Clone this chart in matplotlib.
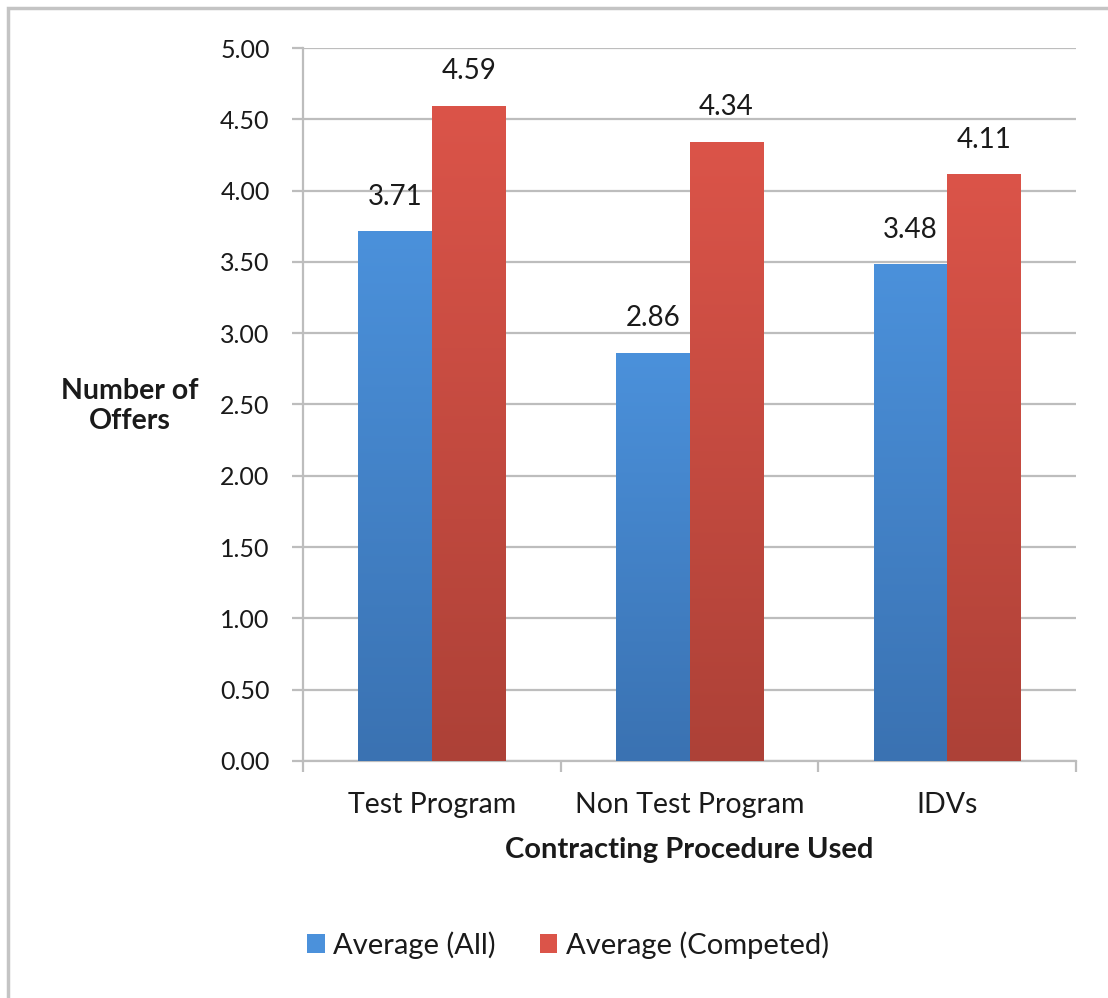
import numpy as np
import matplotlib.pyplot as plt
from matplotlib.colors import LinearSegmentedColormap
from matplotlib.patches import Rectangle

categories = ["Test Program", "Non Test Program", "IDVs"]
avg_all = [3.71, 2.86, 3.48]
avg_competed = [4.59, 4.34, 4.11]
series_names = ["Average (All)", "Average (Competed)"]
yticks = [0.0, 0.5, 1.0, 1.5, 2.0, 2.5, 3.0, 3.5, 4.0, 4.5, 5.0]

plt.rcParams['font.family'] = ['Lato', 'DejaVu Sans']
text_color = '#1a1a1a'
grid_color = '#bdbdbd'

# top/bottom colours of each series' vertical gradient
blue = ('#4b91db', '#3a72b2')
red = ('#db5449', '#ad4137')

fig = plt.figure(figsize=(11.08, 9.98), dpi=100)
ax = fig.add_axes([0.2735, 0.2375, 0.6976, 0.7144])

x = np.arange(len(categories))
w = 1 / 3.5
bars_all = ax.bar(x - w / 2, avg_all, w, color=blue[0], label=series_names[0], zorder=2)
bars_comp = ax.bar(x + w / 2, avg_competed, w, color=red[0], label=series_names[1], zorder=2)

grad = np.linspace(1, 0, 256).reshape(-1, 1)
for bars, (top, bottom) in [(bars_all, blue), (bars_comp, red)]:
    cmap = LinearSegmentedColormap.from_list('g', [bottom, top])
    for b in bars:
        x0, h = b.get_x(), b.get_height()
        ax.imshow(grad, extent=[x0, x0 + b.get_width(), 0, h], aspect='auto',
                  cmap=cmap, vmin=0, vmax=1, zorder=3, interpolation='bicubic')
        ax.annotate(f"{h:.2f}", (x0 + b.get_width() / 2, h), xytext=(0, 16),
                    textcoords='offset points', ha='center', va='bottom',
                    fontsize=20, color=text_color)

ax.set_xlim(-0.5, len(categories) - 0.5)
ax.set_ylim(0, 5)
ax.set_yticks(yticks)
ax.set_yticklabels([f"{v:.2f}" for v in yticks])
ax.yaxis.grid(True, color=grid_color, linewidth=1.6, zorder=0)
ax.set_axisbelow(True)

ax.set_xticks(x)
ax.set_xticklabels(categories)
ax.set_xticks(np.arange(len(categories) + 1) - 0.5, minor=True)
ax.tick_params(axis='x', which='major', length=0, pad=22, labelsize=20.5, labelcolor=text_color)
ax.tick_params(axis='x', which='minor', length=8, width=1.6, color=grid_color)
ax.tick_params(axis='y', length=8, width=1.6, color=grid_color, pad=16,
               labelsize=18, labelcolor=text_color)

for side in ['top', 'right']:
    ax.spines[side].set_visible(False)
for side in ['left', 'bottom']:
    ax.spines[side].set_color(grid_color)
    ax.spines[side].set_linewidth(1.6)

ax.set_xlabel("Contracting Procedure Used", fontsize=21, fontweight='bold',
              color=text_color, labelpad=14)
fig.text(130 / 1108, 1 - 406 / 998, "Number of\nOffers", ha='center', va='center',
         fontsize=20.5, fontweight='bold', color=text_color, linespacing=1.15)

fig.legend(handles=[bars_all, bars_comp], labels=series_names, loc='center',
           bbox_to_anchor=(568 / 1108, 1 - 945 / 998), ncol=2, frameon=False,
           fontsize=21, handlelength=0.6, handleheight=0.6, handletextpad=0.3,
           columnspacing=1.5, labelcolor=text_color)

# outer chart frame
fig.patches.append(Rectangle((8 / 1108, -0.1), 1.2, 1.1 - 8 / 998, transform=fig.transFigure,
                             fill=False, edgecolor='#c4c4c4', linewidth=2.5))

fig.savefig('out.png', dpi=100, facecolor='white')
